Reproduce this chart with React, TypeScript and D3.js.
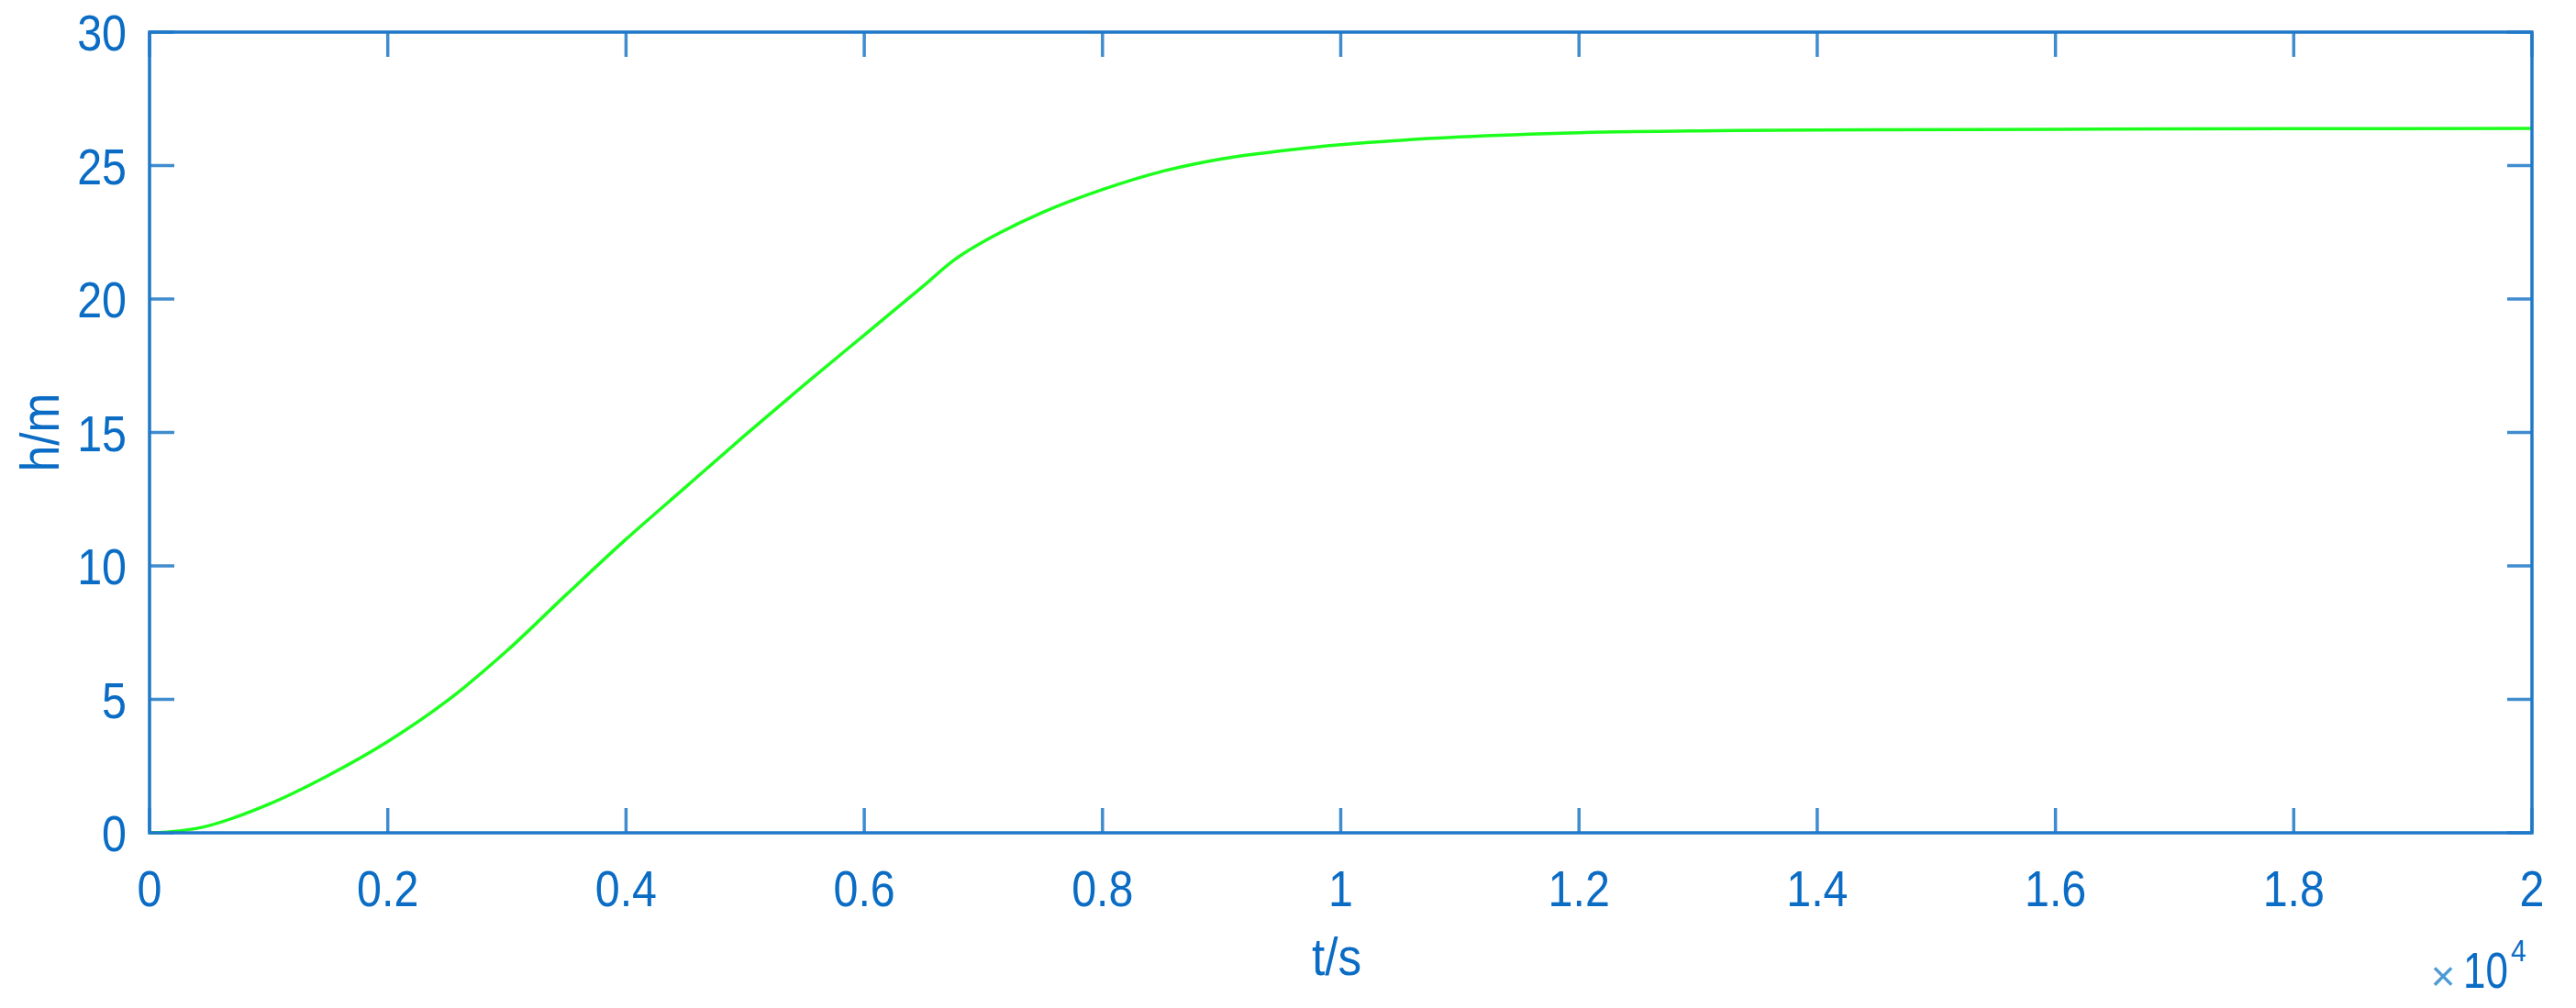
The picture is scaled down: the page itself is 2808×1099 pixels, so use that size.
import React from 'react';
import * as d3 from 'd3';

// time in seconds, water level in metres
const tSeconds = [
  0, 250, 500, 1000, 1500, 2000, 2500, 3000, 3500, 4000, 4500, 5000, 5500, 6000,
  6500, 6750, 7000, 7500, 8000, 8500, 9000, 9500, 10000, 11000, 12000, 13000,
  14000, 16000, 18000, 20000,
];
const hMetres = [
  0, 0.07, 0.27, 1.07, 2.15, 3.42, 4.95, 6.82, 8.93, 11.0, 12.95, 14.9, 16.8,
  18.65, 20.5, 21.45, 22.15, 23.25, 24.1, 24.78, 25.25, 25.55, 25.78, 26.07,
  26.23, 26.3, 26.33, 26.36, 26.38, 26.39,
];

const xTickValues = [0, 2000, 4000, 6000, 8000, 10000, 12000, 14000, 16000, 18000, 20000];
const xTickLabels = ['0', '0.2', '0.4', '0.6', '0.8', '1', '1.2', '1.4', '1.6', '1.8', '2'];
const yTickValues = [0, 5, 10, 15, 20, 25, 30];
const yTickLabels = ['0', '5', '10', '15', '20', '25', '30'];

const W = 2808;
const H = 1099;
const LEFT = 163;
const RIGHT = 2760;
const TOP = 35;
const BOTTOM = 908;
const TICK = 27;

const AXIS = '#1f78c8';
const TICKC = '#3f8ccf';
const TEXT = '#0a6cc4';
const FONT = '"Liberation Sans", Arial, sans-serif';

const App = () => {
  const x = d3.scaleLinear().domain([0, 20000]).range([LEFT, RIGHT]);
  const y = d3.scaleLinear().domain([0, 30]).range([BOTTOM, TOP]);

  const line = d3
    .line<number>()
    .x((_, i) => x(tSeconds[i]))
    .y((d) => y(d))
    .curve(d3.curveCatmullRom.alpha(0.5));

  return (
    <svg
      width={W}
      height={H}
      style={{ position: 'absolute', left: 0, top: 0, background: '#fff' }}
    >
      <rect x={0} y={0} width={W} height={H} fill="#fff" />

      {/* tick marks on all four sides */}
      {xTickValues.map((v) => (
        <g key={'xt' + v} stroke={TICKC} strokeWidth={3.5}>
          <line x1={x(v)} x2={x(v)} y1={BOTTOM} y2={BOTTOM - TICK} />
          <line x1={x(v)} x2={x(v)} y1={TOP} y2={TOP + TICK} />
        </g>
      ))}
      {yTickValues.map((v) => (
        <g key={'yt' + v} stroke={TICKC} strokeWidth={3.5}>
          <line x1={LEFT} x2={LEFT + TICK} y1={y(v)} y2={y(v)} />
          <line x1={RIGHT} x2={RIGHT - TICK} y1={y(v)} y2={y(v)} />
        </g>
      ))}

      {/* curve */}
      <path
        d={line(hMetres) || ''}
        fill="none"
        stroke="#1cff1c"
        strokeWidth={3.5}
        strokeLinejoin="round"
      />

      {/* box */}
      <rect
        x={LEFT}
        y={TOP}
        width={RIGHT - LEFT}
        height={BOTTOM - TOP}
        fill="none"
        stroke={AXIS}
        strokeWidth={3.5}
      />

      {/* tick labels */}
      <g fill={TEXT} fontFamily={FONT} fontSize={55}>
        {xTickValues.map((v, i) => (
          <g key={'xl' + v} transform={`translate(${x(v)},988) scale(0.88,1)`}>
            <text textAnchor="middle">{xTickLabels[i]}</text>
          </g>
        ))}
        {yTickValues.map((v, i) => (
          <g key={'yl' + v} transform={`translate(138,${y(v) + 20}) scale(0.88,1)`}>
            <text textAnchor="end">{yTickLabels[i]}</text>
          </g>
        ))}
      </g>

      {/* axis labels */}
      <g transform="translate(1457,1063) scale(0.9,1)">
        <text textAnchor="middle" fill={TEXT} fontFamily={FONT} fontSize={57}>
          t/s
        </text>
      </g>
      <g transform={`translate(64,${(TOP + BOTTOM) / 2}) rotate(-90) scale(0.87,1)`}>
        <text textAnchor="middle" fill={TEXT} fontFamily={FONT} fontSize={59}>
          h/m
        </text>
      </g>

      {/* exponent */}
      <text x={2663} y={1080} textAnchor="middle" fill="#4a9ad6" fontFamily={FONT} fontSize={46}>
        ×
      </text>
      <g transform="translate(2685,1077) scale(0.8,1)">
        <text fill={TEXT} fontFamily={FONT} fontSize={55}>
          10
        </text>
      </g>
      <g transform="translate(2737,1048) scale(0.88,1)">
        <text fill={TEXT} fontFamily={FONT} fontSize={34}>
          4
        </text>
      </g>
    </svg>
  );
};

export default App;
